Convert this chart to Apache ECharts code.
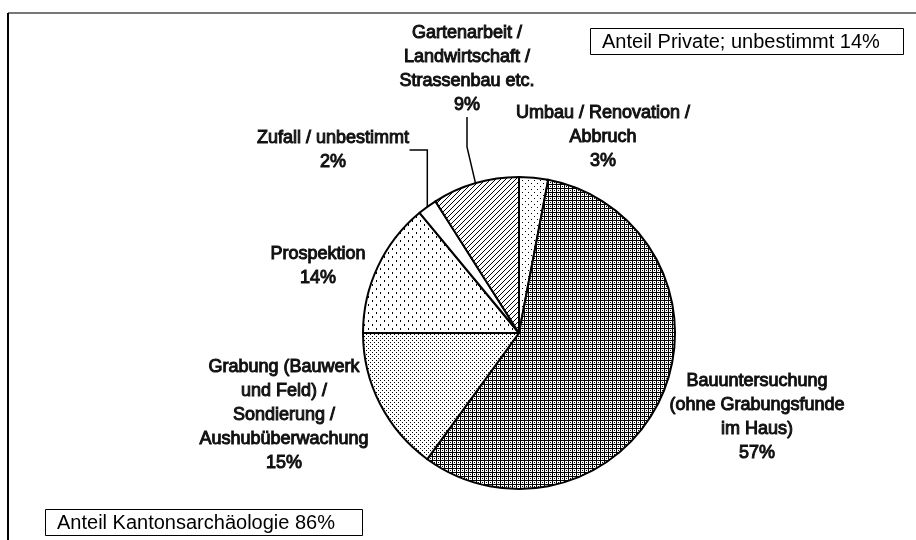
<!DOCTYPE html>
<html>
<head>
<meta charset="utf-8">
<script src="https://cdn.jsdelivr.net/npm/echarts@6/dist/echarts.min.js"></script>
<style>
  html, body { margin: 0; padding: 0; background: #fff; }
  #chart { width: 916px; height: 540px; }
</style>
</head>
<body>
<div id="chart"></div>
<script>
// Kategorien (im Uhrzeigersinn ab 12 Uhr)
var categories = [
  'Umbau / Renovation /\nAbbruch',
  'Bauuntersuchung\n(ohne Grabungsfunde\nim Haus)',
  'Grabung (Bauwerk\nund Feld) /\nSondierung /\nAushubüberwachung',
  'Prospektion',
  'Zufall / unbestimmt',
  'Gartenarbeit /\nLandwirtschaft /\nStrassenbau etc.'
];
// Anteile in %
var shares = [3, 57, 15, 14, 2, 9];
var boxPrivate = 'Anteil Private; unbestimmt 14%';
var boxKanton = 'Anteil Kantonsarchäologie 86%';

// Label-Positionen (Mitte des Textblocks)
var labelPos = [[603, 137], [757, 417], [284, 415], [318, 266], [333, 150], [467, 69]];
var withLine = [false, false, false, false, true, true];

//Muster fuer die Sektoren
var tile = function (w, h, draw) {
  var c = document.createElement('canvas');
  c.width = w; c.height = h;
  var ctx = c.getContext('2d');
  ctx.fillStyle = '#fff';
  ctx.fillRect(0, 0, w, h);
  ctx.fillStyle = '#000';
  draw(ctx);
  return { image: c, repeat: 'repeat' };
};
var patUmbau = tile(6, 6, function (ctx) {
  ctx.fillRect(0, 0, 1, 1); ctx.fillRect(3, 3, 1, 1);
});
// Gitter mit Punkt in der Mitte
var patBau = tile(4, 4, function (ctx) {
  ctx.fillRect(0, 0, 4, 1);
  ctx.fillRect(0, 0, 1, 4);
  ctx.fillRect(2, 2, 1, 1);
});
var patGrabung = tile(4, 4, function (ctx) {
  ctx.fillRect(0, 0, 1, 1); ctx.fillRect(2, 2, 1, 1);
});
var patProsp = tile(8, 8, function (ctx) {
  ctx.fillRect(0, 0, 1, 2); ctx.fillRect(4, 4, 1, 2);
});
var patZufall = '#ffffff';
var patGarten = tile(5, 5, function (ctx) {
  for (var i = 0; i < 5; i++) ctx.fillRect(4 - i, i, 1, 1);
});
var patterns = [patUmbau, patBau, patGrabung, patProsp, patZufall, patGarten];

var myChart = echarts.init(document.getElementById('chart'));
var boxStyle = {
  color: '#000',
  fontFamily: 'Liberation Sans',
  fontSize: 20,
  fontWeight: 'normal'
};
var option = {
  backgroundColor: '#ffffff',
  animation: false,
  title: [
    { text: boxPrivate, left: 590, top: 28, padding: [4, 24, 3, 12],
      borderColor: '#000', borderWidth: 1, textStyle: boxStyle },
    { text: boxKanton, left: 45, top: 509, padding: [4, 28, 3, 12],
      borderColor: '#000', borderWidth: 1, textStyle: boxStyle }
  ],
  graphic: [
    { type: 'line', shape: { x1: 8, y1: 13, x2: 916, y2: 13 },
      style: { stroke: '#777', lineWidth: 2 } },
    { type: 'line', shape: { x1: 8, y1: 13, x2: 8, y2: 540 },
      style: { stroke: '#000', lineWidth: 2 } }
  ],
  series: [
    {
      type: 'pie',
      center: [519, 333],
      radius: 156,
      startAngle: 90,
      clockwise: true,
      itemStyle: { borderColor: '#000', borderWidth: 2 },
      label: {
        show: true,
        formatter: '{b}\n{c}%',
        color: '#111',
        fontFamily: 'Liberation Sans',
        fontSize: 18,
        lineHeight: 24,
        textBorderColor: '#111',
        textBorderWidth: 1,
        align: 'center'
      },
      labelLine: { show: true, lineStyle: { color: '#000', width: 1.5 } },
      labelLayout: function (params) {
        var p = labelPos[params.dataIndex];
        return { x: p[0], y: p[1], align: 'center', verticalAlign: 'middle' };
      },
      data: categories.map(function (name, i) {
        return {
          name: name,
          value: shares[i],
          itemStyle: { color: patterns[i] },
          labelLine: { show: withLine[i] }
        };
      })
    }
  ]
};
myChart.setOption(option);
</script>
</body>
</html>
